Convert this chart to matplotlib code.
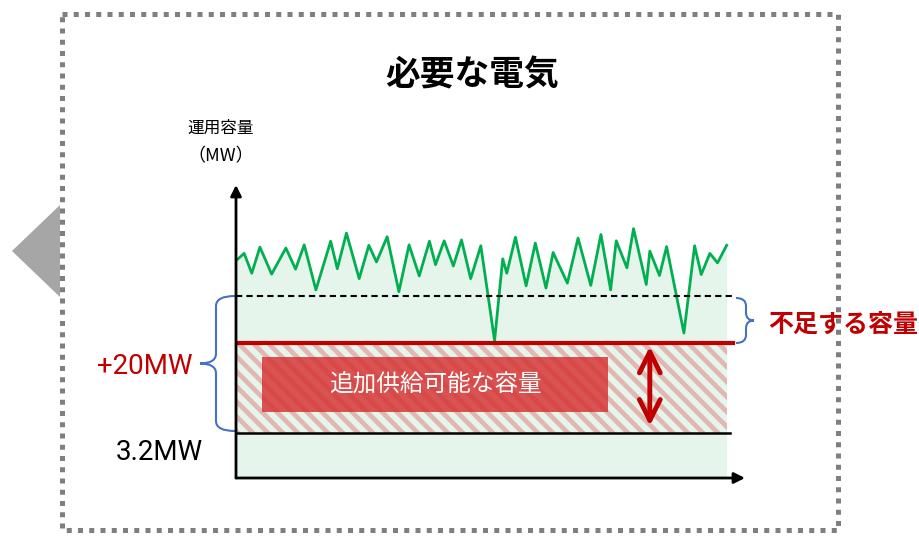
import matplotlib
matplotlib.use("Agg")
import matplotlib.pyplot as plt
from matplotlib.patches import Rectangle, Polygon, PathPatch
from matplotlib.path import Path
from matplotlib.lines import Line2D

plt.rcParams['font.family'] = ['Noto Sans CJK JP', 'DejaVu Sans']

# demand curve (time step, capacity in schematic MW units)
t = [0, 1.6, 3.1, 4.7, 7.0, 9.8, 11.7, 13.4, 15.7, 18.6, 19.9, 21.7, 24.2, 26.1,
     27.6, 29.7, 32.0, 34.0, 36.0, 38.0, 39.2, 40.9, 42.7, 44.3, 46.1, 48.1,
     50.8, 52.4, 53.2, 54.9, 57.0, 58.8, 60.9, 62.3, 65.1, 67.2, 69.7, 71.7,
     73.6, 74.7, 76.8, 78.1, 80.6, 81.3, 83.2, 84.6, 88.0, 90.1, 91.4, 93.1,
     94.6, 96.4]
demand = [48.3, 49.9, 45.5, 51.3, 45.3, 51.1, 46.4, 51.8, 41.8, 52.6, 46.5, 54.4,
          44.3, 51.7, 48.0, 53.6, 41.4, 51.8, 44.9, 52.6, 47.4, 52.7, 47.1, 52.9,
          44.3, 51.6, 30.5, 48.7, 45.5, 53.5, 42.7, 52.2, 42.2, 50.1, 43.3, 53.3,
          42.8, 54.1, 41.8, 52.7, 46.7, 55.4, 43.0, 50.4, 45.0, 51.4, 32.2, 51.6,
          45.2, 49.9, 47.8, 51.7]

shortage_level = 40.4   # dashed line
supply_level = 30.0     # red line
base_level = 10.0       # black line (3.2MW)

fig = plt.figure(figsize=(9.19, 5.36), dpi=100)

# overlay in pixel units for frame, braces, labels
bg = fig.add_axes([0, 0, 1, 1])
bg.set_xlim(0, 919)
bg.set_ylim(536, 0)
bg.axis('off')

bg.add_patch(Rectangle((62, 14), 776, 516, fill=False, ec='#7f7f7f', lw=3.6,
                       ls=(0, (1.0, 1.25)), capstyle='butt'))
bg.add_patch(Polygon([(12, 251), (60, 205), (60, 297)], closed=True, fc='#a6a6a6', ec='none'))

bg.text(472, 75, '必要な電気', ha='center', va='center', fontsize=25, fontweight='bold')
bg.text(221, 128, '運用容量', ha='center', va='center', fontsize=12)
bg.text(221, 156, '（MW）', ha='center', va='center', fontsize=13)
bg.text(192, 366, '+20MW', ha='right', va='center', fontsize=20, color='#c00000',
        family=['Roboto', 'DejaVu Sans'])
bg.text(203, 453, '3.2MW', ha='right', va='center', fontsize=20, color='black',
        family=['Roboto', 'DejaVu Sans'])
bg.text(768, 325, '不足する容量', ha='left', va='center', fontsize=18, color='#c00000',
        fontweight='bold')


def brace(x_end, x_mid, x_tip, y0, y1, r=10):
    ym = (y0 + y1) / 2
    verts = [(x_end, y0), (x_mid, y0), (x_mid, y0 + r),
             (x_mid, ym - r),
             (x_mid, ym), (x_tip, ym),
             (x_mid, ym), (x_mid, ym + r),
             (x_mid, y1 - r),
             (x_mid, y1), (x_end, y1)]
    codes = [Path.MOVETO, Path.CURVE3, Path.CURVE3, Path.LINETO,
             Path.CURVE3, Path.CURVE3, Path.CURVE3, Path.CURVE3,
             Path.LINETO, Path.CURVE3, Path.CURVE3]
    bg.add_patch(PathPatch(Path(verts, codes), fill=False, ec='#4472c4', lw=1.5))


brace(235, 216, 200, 296, 431)
brace(736, 746, 754, 298, 343, r=8)

# chart area
ax = fig.add_axes([236 / 919, (536 - 478) / 536, (745 - 236) / 919, (478 - 185) / 536])
ax.set_xlim(0, 100)
ax.set_ylim(0, 65.1)
ax.axis('off')

ax.fill_between(t, demand, 0, color='#e5f5eb', lw=0, zorder=1)
ax.plot(t, demand, color='#00b050', lw=2, zorder=3)

# diagonal stripes across the +20MW band (drawn in pixel space, clipped to the band)
band = Rectangle((t[0], base_level), t[-1] - t[0], supply_level - base_level,
                 transform=ax.transData, fc='none', ec='none')
ax.add_patch(band)
for c in range(-600, 919, 15):
    ln = Line2D([c, c + 536], [0, 536], color='#e2b6b3', lw=3.4, zorder=2,
                solid_capstyle='butt', transform=bg.transData)
    ax.add_line(ln)
    ln.set_clip_path(band)

x_end = t[-1] + 1.3
ax.plot([0, x_end], [shortage_level] * 2, color='black', lw=1.5, ls=(0, (3, 2)), zorder=4)
ax.plot([0, x_end], [supply_level] * 2, color='#c00000', lw=3, zorder=4)
ax.plot([0, x_end - 0.6], [base_level] * 2, color='black', lw=1.8, zorder=4)

ax.add_patch(Rectangle((5.1, 14.7), 68.0, 12.2, fc='#d63636', alpha=0.85, ec='none', zorder=5))
ax.text(39.1, 20.8, '追加供給可能な容量', ha='center', va='center', fontsize=17,
        color='white', zorder=6)

ax.annotate('', xy=(81.3, 29.2), xytext=(81.3, 11.6),
            arrowprops=dict(arrowstyle='<->,head_length=0.5,head_width=0.25',
                            color='#c00000', lw=3.5,
                            mutation_scale=30, shrinkA=0, shrinkB=0), zorder=6)

# axes with arrowheads
ax.annotate('', xy=(0, 1), xytext=(0, 0), xycoords='axes fraction',
            arrowprops=dict(arrowstyle='-|>', color='black', lw=2, mutation_scale=16,
                            shrinkA=0, shrinkB=0), zorder=7)
ax.annotate('', xy=(1, 0), xytext=(0, 0), xycoords='axes fraction',
            arrowprops=dict(arrowstyle='-|>', color='black', lw=2, mutation_scale=16,
                            shrinkA=0, shrinkB=0), zorder=7)

fig.savefig('out.png', dpi=100)
